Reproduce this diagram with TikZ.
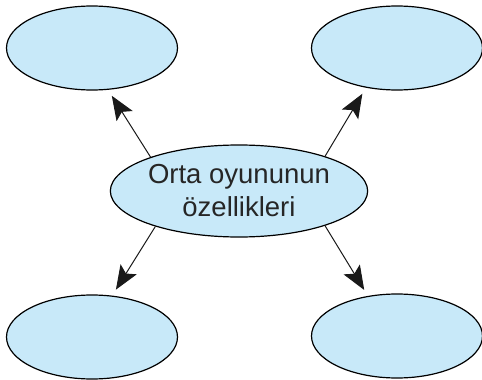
\documentclass[tikz,border=0pt]{standalone}
\usepackage{fontspec}
\setmainfont{Liberation Sans}
\usetikzlibrary{arrows.meta, positioning, shapes.geometric}
\definecolor{bubble}{RGB}{200,233,249}
\tikzset{
	topic/.style={draw, ellipse, line width=1.2pt, fill=bubble, minimum width=171pt, minimum height=84pt, inner sep=0pt},
	core/.style={draw, ellipse, line width=1.2pt, fill=bubble, minimum width=238pt, minimum height=92pt, inner sep=0pt, align=center, font=\fontsize{27.5}{33}\selectfont, text=black!85},
}
\begin{document}
\begin{tikzpicture}[x=1pt, y=-1pt]
	\useasboundingbox (0,0) rectangle (482,380);
	
	\node (orta) [core] at (239,191) {Orta oyununun\\özellikleri};
	
	\node (tl) [topic] at (92,48) {};
	\node (tr) [topic] at (397,48) {};
	\node (bl) [topic] at (92,337) {};
	\node (br) [topic] at (397,336) {};
	
	\begin{scope}[line width=1pt, black!90, -{Stealth[length=24pt, width=19pt, inset=5pt]}, shorten >=7pt]
		\draw (orta.159) -- (tl.291);
		\draw (orta.22) -- (tr.232);
		\draw (orta.203) -- (bl.64);
		\draw (orta.338) -- (br.126);
	\end{scope}
\end{tikzpicture}
\end{document}
